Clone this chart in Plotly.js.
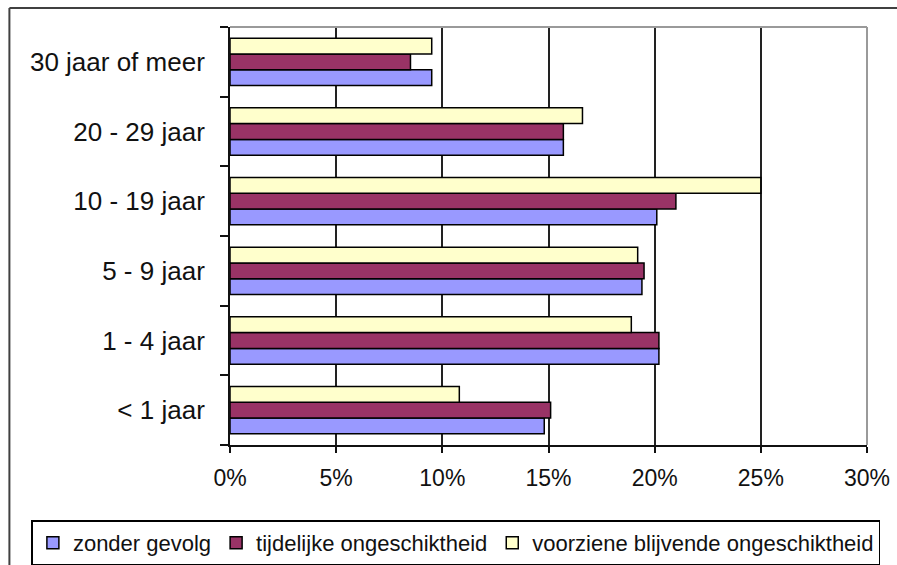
<!DOCTYPE html>
<html>
<head>
<meta charset="utf-8">
<script src="https://cdn.plot.ly/plotly-3.0.1.min.js"></script>
<style>
  html, body { margin: 0; padding: 0; background: #fff; }
  #chart { width: 897px; height: 565px; }
</style>
</head>
<body>
<div id="chart"></div>
<script>
const categories = ['< 1 jaar', '1 - 4 jaar', '5 - 9 jaar', '10 - 19 jaar', '20 - 29 jaar', '30 jaar of meer'];
const seriesNames = ['zonder gevolg', 'tijdelijke ongeschiktheid', 'voorziene blijvende ongeschiktheid'];
const zonderGevolg = [14.8, 20.2, 19.4, 20.1, 15.7, 9.5];
const tijdelijke = [15.1, 20.2, 19.5, 21.0, 15.7, 8.5];
const voorziene = [10.8, 18.9, 19.2, 25.0, 16.6, 9.5];
const xTicks = [0, 5, 10, 15, 20, 25, 30];

const colors = ['#9999FF', '#993366', '#FFFFCC'];
const seriesValues = [zonderGevolg, tijdelijke, voorziene];
const FONT = 'Liberation Sans, Arial, sans-serif';

const traces = seriesValues.map((vals, i) => ({
  type: 'bar',
  orientation: 'h',
  name: seriesNames[i],
  y: categories,
  x: vals,
  marker: { color: colors[i], line: { color: '#000', width: 1.5 } },
  hoverinfo: 'x+y'
}));

const W = 897, H = 565;
const L = 229.7, R = 30, T = 27, B = 120.3;
const pw = W - L - R, ph = H - T - B;
const px = (x) => (x - L) / pw;
const py = (y) => (H - B - y) / ph;

const layout = {
  width: W, height: H,
  margin: { l: L, r: R, t: T, b: B, pad: 0, autoexpand: false },
  paper_bgcolor: '#fff',
  plot_bgcolor: '#fff',
  font: { family: FONT, size: 23, color: '#111' },
  barmode: 'group',
  bargap: 0.32,
  bargroupgap: 0,
  showlegend: true,
  legend: {
    orientation: 'h',
    x: px(31), xanchor: 'left',
    y: py(520), yanchor: 'top',
    bordercolor: '#000', borderwidth: 1.5,
    bgcolor: '#fff',
    font: { family: FONT, size: 22, color: '#111' },
    traceorder: 'normal',
    itemwidth: 30
  },
  xaxis: {
    range: [0, 30],
    tickvals: xTicks,
    ticktext: xTicks.map(v => v + '%'),
    showgrid: true, gridcolor: '#222', gridwidth: 2,
    zeroline: false,
    showline: true, linecolor: '#111', linewidth: 2,
    ticks: 'outside', ticklen: 6, tickwidth: 2, tickcolor: '#111',
    tickfont: { family: FONT, size: 23, color: '#111' },
    ticklabelstandoff: 5,
    fixedrange: true
  },
  yaxis: {
    type: 'category',
    categoryorder: 'array', categoryarray: categories,
    range: [-0.5, 5.5],
    showgrid: false, zeroline: false,
    showline: true, linecolor: '#111', linewidth: 2,
    ticks: 'outside', tickson: 'boundaries', ticklen: 8, tickwidth: 2, tickcolor: '#111',
    tickfont: { family: FONT, size: 26, color: '#111' },
    ticklabelstandoff: 18,
    fixedrange: true
  },
  shapes: [
    { type: 'line', xref: 'paper', yref: 'paper', x0: 0, x1: 1, y0: 1, y1: 1, line: { color: '#9a9a9a', width: 2 } },
    { type: 'line', xref: 'paper', yref: 'paper', x0: 1, x1: 1, y0: 0, y1: 1, line: { color: '#9a9a9a', width: 2 } },
    { type: 'line', xref: 'paper', yref: 'paper', x0: px(9), x1: px(900), y0: py(8), y1: py(8), line: { color: '#404040', width: 2 } },
    { type: 'line', xref: 'paper', yref: 'paper', x0: px(9), x1: px(9), y0: py(8), y1: py(570), line: { color: '#404040', width: 2 } }
  ]
};

Plotly.newPlot('chart', traces, layout, { displayModeBar: false, staticPlot: true });
</script>
</body>
</html>
